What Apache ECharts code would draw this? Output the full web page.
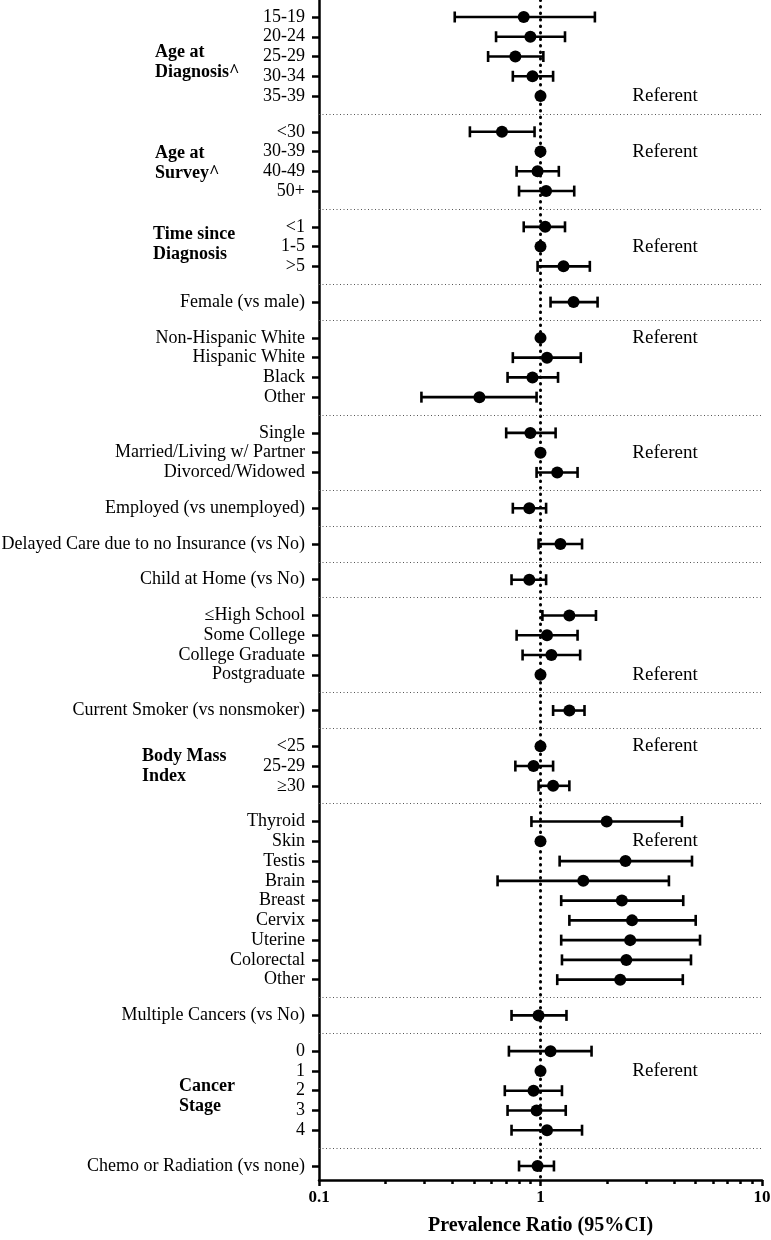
<!DOCTYPE html>
<html>
<head>
<meta charset="utf-8">
<script src="https://cdn.jsdelivr.net/npm/echarts@6/dist/echarts.min.js"></script>
<style>html,body{margin:0;padding:0;background:#fff;}#c{width:771px;height:1240px;}</style>
</head>
<body>
<div id="c"></div>
<script>
const rowLabels = ['15-19','20-24','25-29','30-34','35-39',
  '<30','30-39','40-49','50+',
  '<1','1-5','>5',
  'Female (vs male)',
  'Non-Hispanic White','Hispanic White','Black','Other',
  'Single','Married/Living w/ Partner','Divorced/Widowed',
  'Employed (vs unemployed)',
  'Delayed Care due to no Insurance (vs No)',
  'Child at Home (vs No)',
  '≤High School','Some College','College Graduate','Postgraduate',
  'Current Smoker (vs nonsmoker)',
  '<25','25-29','≥30',
  'Thyroid','Skin','Testis','Brain','Breast','Cervix','Uterine','Colorectal','Other',
  'Multiple Cancers (vs No)',
  '0','1','2','3','4',
  'Chemo or Radiation (vs none)'];
const groupSizes = [5,4,3,1,4,3,1,1,1,4,1,3,9,1,5,1];
const groupTitles = ['Age at\nDiagnosis^','Age at\nSurvey^','Time since\nDiagnosis','','','','','','','','','Body Mass\nIndex','','','Cancer\nStage',''];
const estimate = [0.84,0.90,0.77,0.92,1, 0.67,1,0.97,1.06, 1.05,1,1.27, 1.41, 1,1.07,0.92,0.53, 0.90,1,1.19, 0.89, 1.23, 0.89, 1.35,1.07,1.12,1, 1.35, 1,0.93,1.14, 1.99,1,2.42,1.56,2.33,2.59,2.54,2.44,2.29, 0.98, 1.11,1,0.93,0.96,1.07, 0.97];
const lower = [0.41,0.63,0.58,0.75,null, 0.48,null,0.78,0.80, 0.84,null,0.97, 1.11, null,0.75,0.71,0.29, 0.70,null,0.96, 0.75, 0.98, 0.74, 1.02,0.78,0.83,null, 1.14, null,0.77,0.98, 0.91,null,1.22,0.64,1.24,1.35,1.24,1.25,1.19, 0.74, 0.72,null,0.69,0.71,0.74, 0.80];
const upper = [1.76,1.29,1.03,1.14,null, 0.94,null,1.21,1.42, 1.29,null,1.67, 1.81, null,1.52,1.20,0.96, 1.17,null,1.47, 1.06, 1.54, 1.06, 1.78,1.47,1.51,null, 1.58, null,1.14,1.35, 4.35,null,4.83,3.80,4.41,5.02,5.25,4.78,4.39, 1.31, 1.70,null,1.25,1.30,1.54, 1.15];
const xTickLabels = [0.1, 1, 10];
const xMinorTicks = [0.2,0.3,0.4,0.5,0.6,0.7,0.8,0.9,2,3,4,5,6,7,8,9];
const referentText = 'Referent';

// layout constants
const GAP = 0.81;          // extra spacing between groups (in row units)
const REF_X = 3.65;        // x position of "Referent" text
const FONT = 'Liberation Serif';
const titleLeft = [155,155,153,0,0,0,0,0,0,0,0,142,0,0,179,0];
const titleDy = [6,1.5,-2,0,0,0,0,0,0,0,0,0,0,0,5.5,0];

// row positions
const pos = [];
const groupRange = [];
let idx = 0;
groupSizes.forEach((n, g) => {
  const start = idx + g * GAP;
  for (let i = 0; i < n; i++) { pos.push(idx + g * GAP); idx++; }
  groupRange.push([start, idx - 1 + g * GAP]);
});
const separators = [];
for (let g = 0; g < groupRange.length - 1; g++) {
  separators.push((groupRange[g][1] + groupRange[g + 1][0]) / 2);
}
const yMin = -0.86, yMax = pos[pos.length - 1] + 0.71;

function labelFor(v) {
  for (let i = 0; i < pos.length; i++) if (Math.abs(pos[i] - v) < 1e-6) return rowLabels[i];
  return '';
}

const pointData = estimate.map((e, i) => [e, pos[i]]);
const barData = [];
estimate.forEach((e, i) => { if (lower[i] != null) barData.push([lower[i], upper[i], pos[i]]); });
const refData = [];
estimate.forEach((e, i) => { if (lower[i] == null) refData.push([REF_X, pos[i]]); });

const chart = echarts.init(document.getElementById('c'), null, {renderer: 'canvas'});
chart.setOption({
  animation: false,
  backgroundColor: '#fff',
  grid: {left: 319, right: 9, top: 0, bottom: 60, containLabel: false, outerBoundsMode: 'none'},
  xAxis: [{
    type: 'log', logBase: 10, min: 0.1, max: 10, position: 'bottom',
    axisLine: {show: true, onZero: false, lineStyle: {color: '#000', width: 2.5}},
    axisTick: {show: true, length: 6, lineStyle: {color: '#000', width: 2.5}},
    axisLabel: {show: true, color: '#000', fontFamily: FONT, fontWeight: 'bold', fontSize: 17, margin: 9,
      formatter: v => { const t = xTickLabels.find(x => Math.abs(x - v) < 1e-9); return t == null ? '' : String(t); }},
    splitLine: {show: false},
    name: 'Prevalence Ratio (95%CI)', nameLocation: 'middle', nameGap: 36,
    nameTextStyle: {color: '#000', fontFamily: FONT, fontWeight: 'bold', fontSize: 20}
  }, {
    type: 'log', logBase: 10, min: 0.1, max: 10, position: 'bottom',
    axisLine: {show: false, onZero: false},
    axisTick: {show: true, length: 4, customValues: xMinorTicks, lineStyle: {color: '#000', width: 2.5}},
    axisLabel: {show: false},
    splitLine: {show: false}
  }],
  yAxis: {
    type: 'value', inverse: true, min: yMin, max: yMax,
    axisLine: {show: true, onZero: false, lineStyle: {color: '#000', width: 2.5}},
    axisTick: {show: true, length: 7, customValues: pos, lineStyle: {color: '#000', width: 2.5}},
    axisLabel: {show: true, customValues: pos, formatter: v => labelFor(v), color: '#000', fontFamily: FONT, fontSize: 18, margin: 14},
    splitLine: {show: false}
  },
  series: [{
    type: 'custom',
    xAxisIndex: 0,
    data: barData,
    encode: {x: [0, 1], y: 2},
    renderItem: function (params, api) {
      const a = api.coord([api.value(0), api.value(2)]);
      const b = api.coord([api.value(1), api.value(2)]);
      const h = 5.5;
      const st = {stroke: '#000', lineWidth: 2.6};
      return {type: 'group', children: [
        {type: 'line', shape: {x1: a[0], y1: a[1], x2: b[0], y2: b[1]}, style: st},
        {type: 'line', shape: {x1: a[0], y1: a[1] - h, x2: a[0], y2: a[1] + h}, style: st},
        {type: 'line', shape: {x1: b[0], y1: b[1] - h, x2: b[0], y2: b[1] + h}, style: st}
      ]};
    },
    z: 3,
    silent: true
  }, {
    type: 'scatter',
    xAxisIndex: 0,
    data: pointData,
    symbol: 'circle', symbolSize: 12,
    itemStyle: {color: '#000', opacity: 1},
    z: 4,
    silent: true,
    markLine: {
      silent: true, symbol: 'none', animation: false,
      label: {show: false},
      data: [{xAxis: 1, lineStyle: {color: '#000', width: 3, type: [0.5, 6], cap: 'round'}}]
    }
  }, {
    type: 'scatter',
    xAxisIndex: 0,
    data: refData,
    symbolSize: 0,
    itemStyle: {color: '#000', opacity: 1},
    label: {show: true, position: 'inside', formatter: referentText, color: '#000', opacity: 1, fontFamily: FONT, fontSize: 19},
    silent: true,
    z: 2,
    markLine: {
      silent: true, symbol: 'none', animation: false,
      label: {show: false},
      lineStyle: {color: '#555', width: 1, type: [1, 2.5]},
      data: separators.map(s => ({yAxis: s}))
    }
  }]
});

const graphics = [];
groupTitles.forEach((t, g) => {
  if (!t) return;
  const center = (groupRange[g][0] + groupRange[g][1]) / 2;
  const cy = chart.convertToPixel({yAxisIndex: 0}, center) + titleDy[g];
  graphics.push({
    type: 'text', x: titleLeft[g], y: cy, silent: true,
    style: {text: t, fill: '#000', fontFamily: FONT, fontWeight: 'bold', fontSize: 18, lineHeight: 20, align: 'left', verticalAlign: 'middle'}
  });
});
chart.setOption({graphic: graphics});
</script>
</body>
</html>
